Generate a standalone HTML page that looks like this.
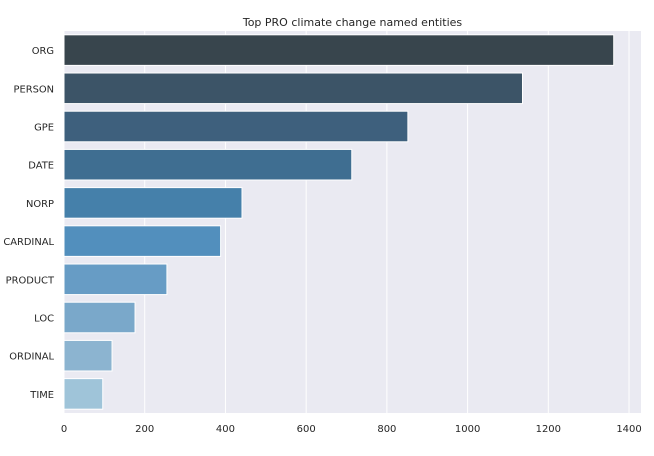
<!DOCTYPE html>
<html><head><meta charset="utf-8"><style>
body{margin:0;background:#fff;font-family:"DejaVu Sans","Liberation Sans",sans-serif}
</style></head><body>
<svg id="c" width="654" height="452" xmlns="http://www.w3.org/2000/svg"></svg>
<script>
const categories=['ORG','PERSON','GPE','DATE','NORP','CARDINAL','PRODUCT','LOC','ORDINAL','TIME'];
const values=[1362,1136,852,713,441,388,255,176,119,96];
const ticks=[0,200,400,600,800,1000,1200,1400];
const colors=['#38454d','#3c5467','#3e607d','#3f6e91','#4580aa','#528fbd','#679cc5','#7aa8ca','#8cb4d0','#9fc4d9'];
const svg=document.getElementById('c');
const NS='http://www.w3.org/2000/svg';
const L=64,R=641,T=31,B=413;
const x=v=>L+v*0.4036;
const band=(B-T)/categories.length;
const y=i=>T+i*band;
function mk(tag,attrs,parent){const e=document.createElementNS(NS,tag);for(const k in attrs)e.setAttribute(k,attrs[k]);(parent||svg).appendChild(e);return e;}
const bg=mk('rect',{x:L,y:T,width:R-L,height:B-T,fill:'#eaeaf2'});


ticks.forEach(t=>{
  const g=mk('line',{x1:x(t),x2:x(t),y1:T,y2:B,stroke:'#fff','stroke-width':1});
  
  
  const tx=mk('text',{x:x(t),y:432,'text-anchor':'middle','font-size':10,fill:'#262626'});
  tx.textContent=t;
  
  
});
categories.forEach((c,i)=>{
  const h=band*0.8;
  const r=mk('rect',{x:L,y:y(i)+band*0.1,width:x(values[i])-L,height:h,fill:colors[i],stroke:'#fff','stroke-width':1});
  
  
  const tx=mk('text',{x:54,y:y(i)+band/2+4,'text-anchor':'end','font-size':9.9,fill:'#262626'});
  tx.textContent=c;
  
  
});
const title=mk('text',{x:(L+R)/2,y:26,'text-anchor':'middle','font-size':11,fill:'#262626'});
title.textContent='Top PRO climate change named entities';


</script>
</body></html>
